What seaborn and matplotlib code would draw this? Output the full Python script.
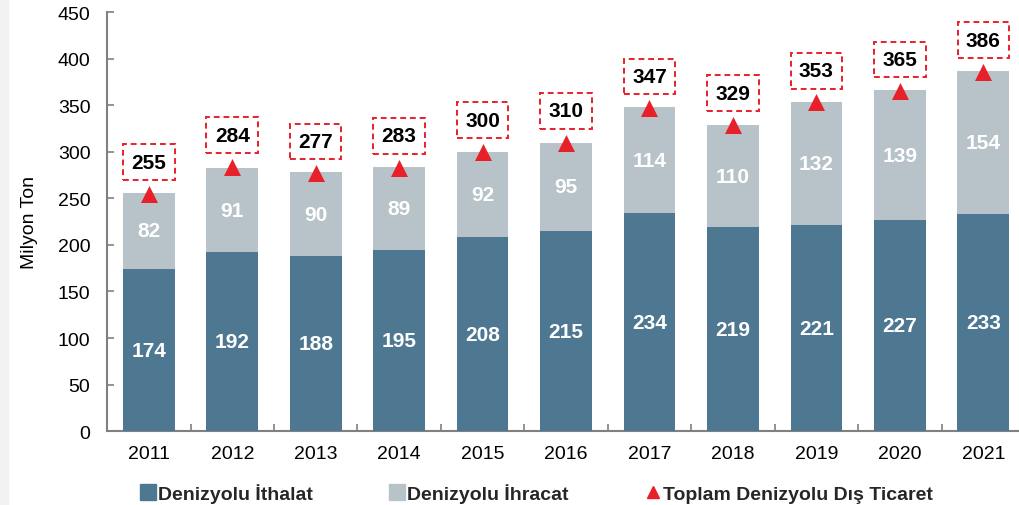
import matplotlib
matplotlib.use("Agg")
import matplotlib.pyplot as plt
import seaborn as sns
import pandas as pd
import numpy as np
from matplotlib.patches import Rectangle
from matplotlib.lines import Line2D

years = ["2011", "2012", "2013", "2014", "2015", "2016", "2017", "2018", "2019", "2020", "2021"]
ithalat = [174, 192, 188, 195, 208, 215, 234, 219, 221, 227, 233]
ihracat = [82, 91, 90, 89, 92, 95, 114, 110, 132, 139, 154]
toplam = [255, 284, 277, 283, 300, 310, 347, 329, 353, 365, 386]

c_blue = "#4E7892"
c_gray = "#B8C3C9"
c_red = "#E8202A"

sns.set_theme(style="white")
plt.rcParams['font.family'] = ['Liberation Sans', 'DejaVu Sans']

df = pd.DataFrame({"year": years, "ithalat": ithalat, "ihracat": ihracat, "toplam": toplam})
df["stack"] = df["ithalat"] + df["ihracat"]

fig = plt.figure(figsize=(10.2, 5.06), dpi=100)
fig.patches.append(Rectangle((0, 0), 0.008, 1, transform=fig.transFigure, color="#F2F2F2", zorder=0))
ax = fig.add_axes([0.105, 0.146, 0.895, 0.828])

sns.barplot(data=df, x="year", y="stack", color=c_gray, width=0.62, saturation=1, ax=ax, zorder=2, linewidth=0)
sns.barplot(data=df, x="year", y="ithalat", color=c_blue, width=0.62, saturation=1, ax=ax, zorder=3, linewidth=0)

x = np.arange(len(years))
ax.scatter(x, df["toplam"], marker="^", s=150, color=c_red, zorder=5, linewidths=0)

for i in range(len(years)):
    ax.text(i, ithalat[i] / 2, str(ithalat[i]), ha="center", va="center", color="white",
            fontsize=15, fontweight="bold", zorder=6)
    ax.text(i, ithalat[i] + ihracat[i] / 2, str(ihracat[i]), ha="center", va="center", color="white",
            fontsize=15, fontweight="bold", zorder=6)
    ax.text(i, toplam[i] + 34, str(toplam[i]), ha="center", va="center", color="black",
            fontsize=15, fontweight="bold", zorder=6,
            bbox=dict(boxstyle="square,pad=0.4", fc="white", ec=c_red, lw=1.4, ls=(0, (3, 2))))

ax.set_ylim(0, 450)
ax.set_xlim(-0.5, 10.44)
ax.set_yticks(range(0, 451, 50))
ax.set_xticks(x)
ax.set_xticklabels(years)
ax.set_xticks(np.arange(0.5, 10.5, 1), minor=True)
ax.tick_params(axis="x", which="major", length=0, labelsize=14, pad=10, colors="black")
ax.tick_params(axis="x", which="minor", direction="in", length=5, color="#808080", width=1.2, bottom=True)
ax.tick_params(axis="y", direction="in", length=5, color="#808080", width=1.2, labelsize=14, pad=12, left=True)
for lab in ax.get_yticklabels():
    lab.set_color("black")
ax.set_xlabel("")
ax.set_ylabel("Milyon Ton", fontsize=14, labelpad=14, color="black")
for s in ["top", "right"]:
    ax.spines[s].set_visible(False)
for s in ["left", "bottom"]:
    ax.spines[s].set_color("#808080")
    ax.spines[s].set_linewidth(1.5)

handles = [
    Line2D([], [], marker="s", ls="", color=c_blue, markersize=11),
    Line2D([], [], marker="s", ls="", color=c_gray, markersize=11),
    Line2D([], [], marker="^", ls="", color=c_red, markersize=8),
]
labels = ["Denizyolu İthalat", "Denizyolu İhracat", "Toplam Denizyolu Dış Ticaret"]
fig.legend(handles, labels, loc="center", bbox_to_anchor=(0.525, 0.024), ncol=3, frameon=False,
           prop={"weight": "bold", "size": 14}, handletextpad=0.05, columnspacing=3.8, handlelength=1.0)

fig.savefig("out.png", dpi=100)
